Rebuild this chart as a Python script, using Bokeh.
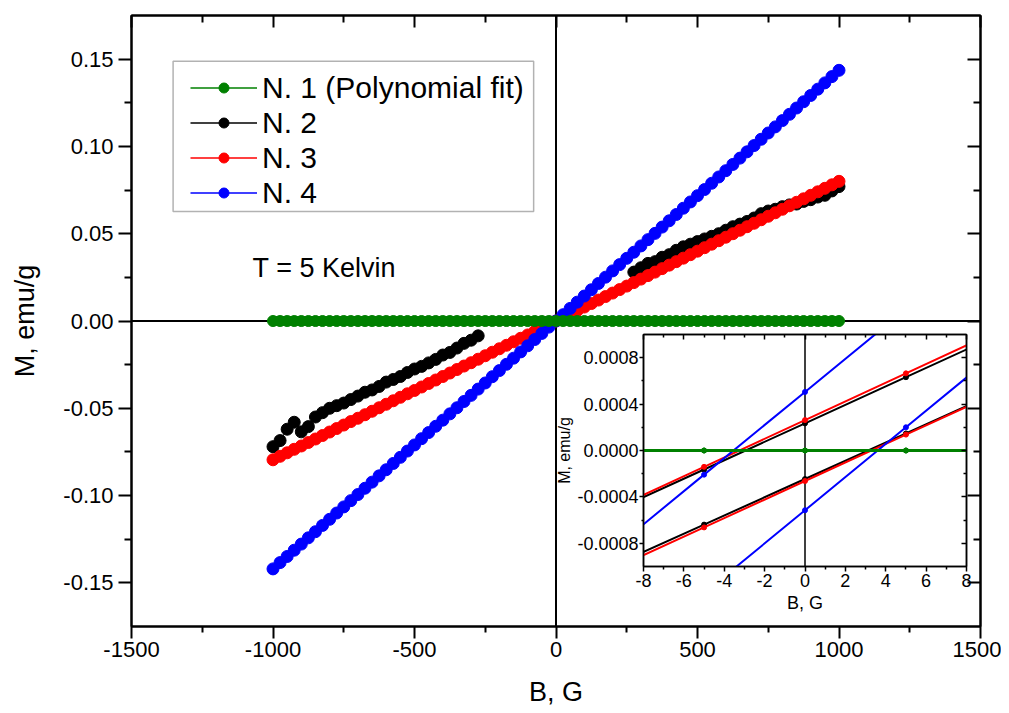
from bokeh.plotting import figure
from bokeh.models import (Range1d, FixedTicker, PrintfTickFormatter, LinearAxis,
                          Span, Legend, LegendItem, Label, GridBox, BoxAnnotation)
from bokeh.embed import file_html
from bokeh.resources import INLINE

FONT = "Liberation Sans"
GREEN, BLACK, RED, BLUE = "#008000", "#000000", "#ff0000", "#0000ff"
NAN = float("nan")

# ---------------- main data (B in G, M in emu/g) ----------------
b_main = [-1000, -975, -950, -925, -900, -875, -850, -825, -800, -775, -750, -725, -700,
          -675, -650, -625, -600, -575, -550, -525, -500, -475, -450, -425, -400, -375,
          -350, -325, -300, -275, -250, -225, -200, -175, -150, -125, -100, -75, -50, -25,
          0, 25, 50, 75, 100, 125, 150, 175, 200, 225, 250, 275, 300, 325, 350, 375, 400,
          425, 450, 475, 500, 525, 550, 575, 600, 625, 650, 675, 700, 725, 750, 775, 800,
          825, 850, 875, 900, 925, 950, 975, 1000]

m_n1 = [0.0, 0.0, 0.0, 0.0, 0.0, 0.0, 0.0, 0.0, 0.0, 0.0, 0.0, 0.0, 0.0, 0.0, 0.0, 0.0, 0.0,
        0.0, 0.0, 0.0, 0.0, 0.0, 0.0, 0.0, 0.0, 0.0, 0.0, 0.0, 0.0, 0.0, 0.0, 0.0, 0.0, 0.0,
        0.0, 0.0, 0.0, 0.0, 0.0, 0.0, 0.0, 0.0, 0.0, 0.0, 0.0, 0.0, 0.0, 0.0, 0.0, 0.0, 0.0,
        0.0, 0.0, 0.0, 0.0, 0.0, 0.0, 0.0, 0.0, 0.0, 0.0, 0.0, 0.0, 0.0, 0.0, 0.0, 0.0, 0.0,
        0.0, 0.0, 0.0, 0.0, 0.0, 0.0, 0.0, 0.0, 0.0, 0.0, 0.0, 0.0, 0.0]

m_n3 = [-0.0795, -0.0775, -0.0755, -0.0735, -0.0716, -0.0696, -0.0676, -0.0656, -0.0636,
        -0.0616, -0.0596, -0.0576, -0.0557, -0.0537, -0.0517, -0.0497, -0.0477, -0.0457,
        -0.0437, -0.0417, -0.0398, -0.0378, -0.0358, -0.0338, -0.0318, -0.0298, -0.0278,
        -0.0258, -0.0239, -0.0219, -0.0199, -0.0179, -0.0159, -0.0139, -0.0119, -0.0099,
        -0.0080, -0.0060, -0.0040, -0.0020, 0.0000, 0.0020, 0.0040, 0.0060, 0.0080, 0.0100,
        0.0120, 0.0140, 0.0160, 0.0180, 0.0200, 0.0220, 0.0240, 0.0260, 0.0280, 0.0300,
        0.0320, 0.0340, 0.0360, 0.0380, 0.0400, 0.0420, 0.0440, 0.0460, 0.0480, 0.0500,
        0.0520, 0.0540, 0.0560, 0.0580, 0.0600, 0.0620, 0.0640, 0.0660, 0.0680, 0.0700,
        0.0720, 0.0740, 0.0760, 0.0780, 0.0800]

m_n4 = [-0.1420, -0.1384, -0.1349, -0.1313, -0.1278, -0.1242, -0.1207, -0.1171, -0.1136,
        -0.1100, -0.1065, -0.1029, -0.0994, -0.0958, -0.0923, -0.0887, -0.0852, -0.0816,
        -0.0781, -0.0745, -0.0710, -0.0674, -0.0639, -0.0603, -0.0568, -0.0532, -0.0497,
        -0.0461, -0.0426, -0.0390, -0.0355, -0.0319, -0.0284, -0.0248, -0.0213, -0.0177,
        -0.0142, -0.0106, -0.0071, -0.0035, 0.0000, 0.0036, 0.0072, 0.0108, 0.0143, 0.0179,
        0.0215, 0.0251, 0.0287, 0.0323, 0.0359, 0.0394, 0.0430, 0.0466, 0.0502, 0.0538,
        0.0574, 0.0610, 0.0646, 0.0682, 0.0718, 0.0753, 0.0789, 0.0825, 0.0861, 0.0897,
        0.0933, 0.0969, 0.1005, 0.1041, 0.1077, 0.1112, 0.1148, 0.1184, 0.1220, 0.1256,
        0.1292, 0.1328, 0.1364, 0.1400, 0.1436]

b_n2_neg = [-1000, -975, -950, -925, -900, -875, -850, -825, -800, -775, -750, -725, -700,
            -675, -650, -625, -600, -575, -550, -525, -500, -475, -450, -425, -400, -375,
            -350, -325, -300, -275]
m_n2_neg = [-0.0720, -0.0685, -0.0620, -0.0580, -0.0635, -0.0605, -0.0550, -0.0525, -0.0500,
            -0.0485, -0.0470, -0.0450, -0.0430, -0.0408, -0.0395, -0.0375, -0.0350, -0.0335,
            -0.0318, -0.0295, -0.0275, -0.0260, -0.0240, -0.0220, -0.0195, -0.0180, -0.0155,
            -0.0128, -0.0110, -0.0085]
b_n2_pos = [275, 300, 325, 350, 375, 400, 425, 450, 475, 500, 525, 550, 575, 600, 625, 650,
            675, 700, 725, 750, 775, 800, 825, 850, 875, 900, 925, 950, 975, 1000]
m_n2_pos = [0.0280, 0.0305, 0.0330, 0.0340, 0.0365, 0.0380, 0.0405, 0.0425, 0.0440, 0.0455,
            0.0470, 0.0485, 0.0500, 0.0520, 0.0540, 0.0555, 0.0570, 0.0590, 0.0615, 0.0630,
            0.0640, 0.0655, 0.0665, 0.0670, 0.0685, 0.0695, 0.0710, 0.0720, 0.0745, 0.0770]

# ---------------- inset data (two sweep branches per sample) ----------------
b_inset = [-10, -5, 0, 5, 10]
n1_up = [0.0, 0.0, 0.0, 0.0, 0.0]
n1_dn = [0.0, 0.0, 0.0, 0.0, 0.0]
n2_up = [-0.000562, -0.000164, 0.000234, 0.000632, 0.001030]
n2_dn = [-0.001031, -0.000639, -0.000246, 0.000147, 0.000539]
n3_up = [-0.000543, -0.000141, 0.000262, 0.000665, 0.001067]
n3_dn = [-0.001062, -0.000663, -0.000263, 0.000137, 0.000536]
n4_up = [-0.000922, -0.000208, 0.000505, 0.001218, 0.001931]
n4_dn = [-0.001945, -0.001230, -0.000515, 0.000200, 0.000915]

legend_labels = ["N. 1 (Polynomial fit)", "N. 2", "N. 3", "N. 4"]

x_major = [-1500, -1000, -500, 0, 500, 1000, 1500]
x_minor = [-1250, -750, -250, 250, 750, 1250]
y_major = [-0.15, -0.10, -0.05, 0.0, 0.05, 0.10, 0.15]
y_minor = [-0.125, -0.075, -0.025, 0.025, 0.075, 0.125]

xi_major = [-8, -6, -4, -2, 0, 2, 4, 6, 8]
xi_minor = [-7, -5, -3, -1, 1, 3, 5, 7]
yi_major = [-0.0008, -0.0004, 0.0, 0.0004, 0.0008]
yi_minor = [-0.0006, -0.0002, 0.0002, 0.0006]


def style_axis(ax, major, minor, fmt, font_size, out_major, in_major, out_minor, in_minor,
               lw, labels=True, standoff=4):
    ax.ticker = FixedTicker(ticks=major, minor_ticks=minor)
    ax.formatter = PrintfTickFormatter(format=fmt)
    ax.major_tick_out = out_major
    ax.major_tick_in = in_major
    ax.minor_tick_out = out_minor
    ax.minor_tick_in = in_minor
    ax.axis_line_width = lw
    ax.major_tick_line_width = lw
    ax.minor_tick_line_width = lw
    ax.axis_line_color = "black"
    ax.major_tick_line_color = "black"
    ax.minor_tick_line_color = "black"
    ax.major_label_text_font = FONT
    ax.major_label_standoff = standoff if labels else 0
    if labels:
        ax.major_label_text_font_size = font_size
        ax.major_label_text_color = "black"
    else:
        ax.major_label_text_font_size = "1px"
        ax.major_label_text_color = None
    ax.axis_label_text_font = FONT
    ax.axis_label_text_font_style = "normal"
    ax.axis_label_text_color = "black"


# ---------------- main figure ----------------
p = figure(frame_width=849, frame_height=611,
           min_border_left=131, min_border_right=21, min_border_top=15, min_border_bottom=79,
           x_range=Range1d(-1500, 1500), y_range=Range1d(-0.175, 0.175),
           output_backend="svg", toolbar_location=None, frame_align=False)
p.xgrid.visible = False
p.ygrid.visible = False
p.outline_line_color = "black"
p.outline_line_width = 2
p.background_fill_color = "white"
p.border_fill_color = "white"

xa = p.xaxis[0]
style_axis(xa, x_major, x_minor, "%d", "22px", 12, 0, 6, 0, 2, standoff=3)
xa.axis_label = "B, G"
xa.axis_label_text_font_size = "27px"
xa.axis_label_standoff = 17
ya = p.yaxis[0]
style_axis(ya, y_major, y_minor, "%.2f", "22px", 13, 0, 7, 0, 2, standoff=5)
ya.axis_label = "M, emu/g"
ya.axis_label_text_font_size = "27px"
ya.axis_label_standoff = 20

top = LinearAxis()
style_axis(top, x_major, x_minor, "%d", "22px", 0, 12, 0, 7, 2, labels=False)
p.add_layout(top, "above")
right = LinearAxis()
style_axis(right, y_major, y_minor, "%.2f", "22px", 0, 13, 0, 7, 2, labels=False)
p.add_layout(right, "right")

p.add_layout(Span(location=0, dimension="height", line_color="black", line_width=2,
                  level="underlay"))
p.add_layout(Span(location=0, dimension="width", line_color="black", line_width=2,
                  level="underlay"))

MS = 12
p.line(b_n2_neg, m_n2_neg, line_color=BLACK, line_width=1)
p.scatter(b_n2_neg, m_n2_neg, size=MS, color=BLACK)
p.line(b_n2_pos, m_n2_pos, line_color=BLACK, line_width=1)
p.scatter(b_n2_pos, m_n2_pos, size=MS, color=BLACK)
p.line(b_main, m_n3, line_color=RED, line_width=1)
p.scatter(b_main, m_n3, size=MS, color=RED)
p.line(b_main, m_n4, line_color=BLUE, line_width=1)
p.scatter(b_main, m_n4, size=MS, color=BLUE)
p.line(b_main, m_n1, line_color=GREEN, line_width=10)
p.scatter(b_main, m_n1, size=11, color=GREEN)

# legend (thin line + small dot, as in the reference)
items = []
for lab, col in zip(legend_labels, [GREEN, BLACK, RED, BLUE]):
    rl = p.line([NAN], [NAN], line_color=col, line_width=1.5)
    rs = p.scatter([NAN], [NAN], size=10, color=col)
    items.append(LegendItem(label=lab, renderers=[rl, rs]))
legend = Legend(items=items, location=(59, 416), border_line_color=None,
                background_fill_alpha=0, padding=0, margin=0, spacing=0,
                glyph_width=67, glyph_height=25, label_height=35, label_standoff=5,
                label_text_font=FONT, label_text_font_size="30px",
                label_text_color="black")
p.add_layout(legend)
p.add_layout(BoxAnnotation(left=-1353, right=-79, top=0.1488, bottom=0.0627,
                           fill_color=None, line_color="black", line_width=1.5))

p.add_layout(Label(x=-1072, y=0.0303, text="T = 5 Kelvin", text_font=FONT,
                   text_font_size="27px", text_color="black",
                   text_baseline="alphabetic"))

# ---------------- inset figure ----------------
q = figure(frame_width=323, frame_height=232,
           min_border_left=643, min_border_right=35, min_border_top=334,
           min_border_bottom=139,
           x_range=Range1d(-8, 8), y_range=Range1d(-0.001, 0.001),
           output_backend="svg", toolbar_location=None, frame_align=False)
q.xgrid.visible = False
q.ygrid.visible = False
q.border_fill_alpha = 0
q.background_fill_color = "white"
q.outline_line_color = "black"
q.outline_line_width = 1.5

qx = q.xaxis[0]
style_axis(qx, xi_major, xi_minor, "%d", "18px", 5, 0, 3, 0, 1.5, standoff=2)
qx.axis_label = "B, G"
qx.axis_label_text_font_size = "18px"
qx.axis_label_standoff = 3
qy = q.yaxis[0]
style_axis(qy, yi_major, yi_minor, "%.4f", "18px", 4, 0, 2, 0, 1.5, standoff=1)
qy.axis_label = "M, emu/g"
qy.axis_label_text_font_size = "16px"
qy.axis_label_standoff = 1
qt = LinearAxis()
style_axis(qt, xi_major, xi_minor, "%d", "17px", 0, 5, 0, 3, 1.5, labels=False)
q.add_layout(qt, "above")
qr = LinearAxis()
style_axis(qr, yi_major, yi_minor, "%.4f", "17px", 0, 5, 0, 3, 1.5, labels=False)
q.add_layout(qr, "right")

q.add_layout(Span(location=0, dimension="height", line_color="black", line_width=1.5,
                  level="underlay"))

for up, dn, col in [(n2_up, n2_dn, BLACK), (n3_up, n3_dn, RED), (n4_up, n4_dn, BLUE),
                    (n1_up, n1_dn, GREEN)]:
    lw = 3 if col == GREEN else 2
    for br in (up, dn):
        q.line(b_inset, br, line_color=col, line_width=lw)
        q.scatter(b_inset, br, size=5, color=col)

root = GridBox(children=[(p, 0, 0), (q, 0, 0)])

open("out.html", "w").write(file_html(root, INLINE))
